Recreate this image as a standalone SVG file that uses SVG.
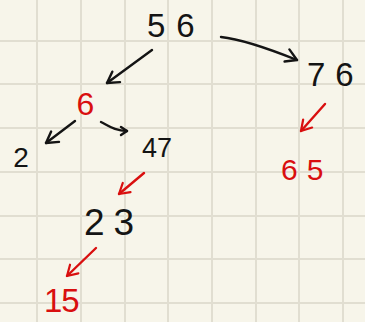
<svg xmlns="http://www.w3.org/2000/svg" width="365" height="322" viewBox="0 0 365 322">
  <style>
    .grid line { stroke: #e1ded1; stroke-width: 2; }
    .lbl { font-family: "Liberation Sans", Arial, sans-serif; }
    .blk { fill: #141414; }
    .red { fill: #d90f0f; }
    .edge { fill: none; stroke-width: 2.4; stroke-linecap: round; stroke-linejoin: round; }
    .eb { stroke: #141414; }
    .er { stroke: #d90f0f; }
  </style>
  <defs>
    <marker id="hb" markerUnits="userSpaceOnUse" markerWidth="20" markerHeight="20" viewBox="-12 -10 14 20" refX="0" refY="0" orient="auto">
      <path d="M-11,-7 L0,0 L-11,6" fill="none" stroke="#141414" stroke-width="2.4" stroke-linecap="round" stroke-linejoin="round"/>
    </marker>
    <marker id="hr" markerUnits="userSpaceOnUse" markerWidth="20" markerHeight="20" viewBox="-12 -10 14 20" refX="0" refY="0" orient="auto">
      <path d="M-10,-6 L0,0 L-10,6" fill="none" stroke="#d90f0f" stroke-width="2.2" stroke-linecap="round" stroke-linejoin="round"/>
    </marker>
    <marker id="hs" markerUnits="userSpaceOnUse" markerWidth="14" markerHeight="14" viewBox="-8 -7 10 14" refX="0" refY="0" orient="auto">
      <path d="M-6,-4 L0,0 L-6,4" fill="none" stroke="#141414" stroke-width="2.4" stroke-linecap="round" stroke-linejoin="round"/>
    </marker>
  </defs>
  <rect x="0" y="0" width="365" height="322" fill="#f7f5ea"/>
  <g class="grid">
    <line x1="37" y1="0" x2="37" y2="322"/>
    <line x1="81" y1="0" x2="81" y2="322"/>
    <line x1="125" y1="0" x2="125" y2="322"/>
    <line x1="168" y1="0" x2="168" y2="322"/>
    <line x1="212" y1="0" x2="212" y2="322"/>
    <line x1="256" y1="0" x2="256" y2="322"/>
    <line x1="299" y1="0" x2="299" y2="322"/>
    <line x1="343" y1="0" x2="343" y2="322"/>
    <line x1="0" y1="41" x2="365" y2="41"/>
    <line x1="0" y1="84" x2="365" y2="84"/>
    <line x1="0" y1="128" x2="365" y2="128"/>
    <line x1="0" y1="172" x2="365" y2="172"/>
    <line x1="0" y1="216" x2="365" y2="216"/>
    <line x1="0" y1="259" x2="365" y2="259"/>
    <line x1="0" y1="303" x2="365" y2="303"/>
  </g>
  <g id="connectors">
    <path class="edge eb" d="M152,50 L107,83" marker-end="url(#hb)"/>
    <path class="edge eb" d="M221,37 C240,39 262,46 297,60" marker-end="url(#hb)"/>
    <path class="edge eb" d="M75,121 L46,143" marker-end="url(#hb)"/>
    <path class="edge eb" d="M101,122 C109,126 115,131 127,131" marker-end="url(#hs)"/>
    <path class="edge er" d="M325,104 L301,131" marker-end="url(#hr)"/>
    <path class="edge er" d="M144,173 L119,194" marker-end="url(#hr)"/>
    <path class="edge er" d="M96,248 L67,276" marker-end="url(#hr)"/>
  </g>
  <g id="n56"><text class="lbl blk" x="147" y="37" font-size="33" letter-spacing="11">56</text></g>
  <g id="n76"><text class="lbl blk" x="307" y="86" font-size="33" letter-spacing="10">76</text></g>
  <g id="n6"><text class="lbl red" x="85.5" y="115" font-size="32" text-anchor="middle">6</text></g>
  <g id="n2"><text class="lbl blk" x="21" y="167" font-size="28" text-anchor="middle">2</text></g>
  <g id="n47"><text class="lbl blk" x="142" y="157" font-size="27">47</text></g>
  <g id="n65"><text class="lbl red" x="281" y="180" font-size="30" letter-spacing="9">65</text></g>
  <g id="n23"><text class="lbl blk" x="84" y="235" font-size="37" letter-spacing="9">23</text></g>
  <g id="n15"><text class="lbl red" x="44" y="312" font-size="33" letter-spacing="-1">15</text></g>
</svg>
